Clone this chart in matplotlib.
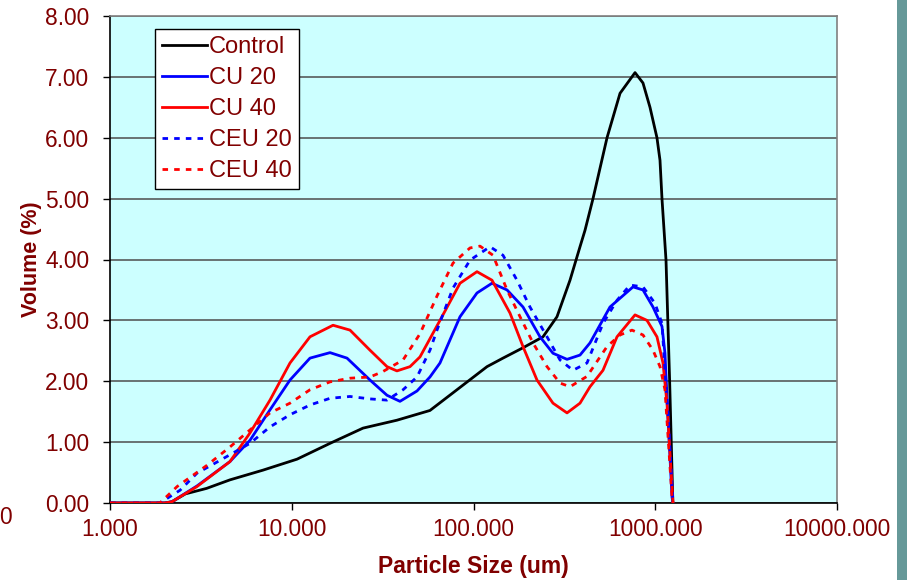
import numpy as np
import matplotlib
matplotlib.use('Agg')
import matplotlib.pyplot as plt
from matplotlib.ticker import FixedLocator, FormatStrFormatter, NullLocator
from matplotlib.patches import Rectangle

plt.rcParams['font.family'] = ['Liberation Sans', 'DejaVu Sans']

# 数据
control_x = [1, 2.0, 2.19, 2.6, 3.4, 4.57, 6.95, 10.69, 16.24, 24.66, 37.9, 57.6, 77.1, 118.7,
             145.3, 187.2, 241.2, 288.0, 339.6, 385.5, 410.7, 454.5, 542.8, 640, 774, 856,
             935.6, 1022, 1062, 1089, 1146, 1200, 1250]
control_y = [0, 0, 0.02, 0.15, 0.24, 0.38, 0.54, 0.72, 0.98, 1.23, 1.36, 1.52, 1.81, 2.24,
             2.38, 2.55, 2.73, 3.06, 3.66, 4.21, 4.48, 5.00, 6.00, 6.73, 7.07, 6.90,
             6.50, 6.00, 5.63, 5.00, 3.99, 2.00, 0]

cu20_x = [1, 2.0, 2.19, 3.01, 4.57, 5.89, 7.59, 9.78, 12.60, 16.24, 20.14, 26.95, 33.42, 39.4,
          48.88, 57.6, 65.4, 84.3, 104.5, 126.4, 152.9, 187.2, 232.2, 273.7, 327, 385.5,
          437.5, 563.7, 754.6, 856.2, 971.8, 1089, 1131, 1160, 1236, 1252]
cu20_y = [0, 0, 0.02, 0.28, 0.68, 1.03, 1.53, 2.02, 2.38, 2.47, 2.38, 2.02, 1.77, 1.67,
          1.84, 2.07, 2.30, 3.06, 3.45, 3.61, 3.50, 3.22, 2.73, 2.46, 2.36, 2.43,
          2.63, 3.22, 3.55, 3.50, 3.22, 2.90, 2.46, 1.75, 0.10, 0]

cu40_x = [1, 2.0, 2.19, 3.01, 4.57, 5.89, 7.59, 9.78, 12.60, 16.87, 20.92, 26.95, 33.42, 37.9,
          44.74, 50.77, 65.4, 84.3, 104.5, 126.4, 158.8, 187.2, 223.5, 273.7, 327, 385.5,
          437.5, 515.8, 616.0, 773.9, 900.7, 1022, 1103, 1160, 1252]
cu40_y = [0, 0, 0.02, 0.27, 0.68, 1.15, 1.69, 2.30, 2.73, 2.92, 2.84, 2.51, 2.24, 2.17,
          2.24, 2.40, 3.00, 3.61, 3.80, 3.66, 3.12, 2.57, 2.02, 1.64, 1.48, 1.64,
          1.91, 2.18, 2.73, 3.09, 3.00, 2.73, 2.30, 1.64, 0]

ceu20_x = [1, 1.88, 2.43, 3.01, 4.03, 5.89, 7.59, 9.78, 12.60, 16.24, 20.92, 26.95, 33.42, 40.96,
           48.88, 57.6, 62.98, 77.1, 95.7, 123.3, 145.3, 173.5, 204.5, 253.8, 299.2, 352.7,
           421.2, 515.8, 616.0, 726.5, 856.2, 996.8, 1089, 1131, 1175, 1252]
ceu20_y = [0, 0, 0.21, 0.49, 0.70, 0.98, 1.25, 1.45, 1.61, 1.72, 1.75, 1.71, 1.69, 1.86,
           2.07, 2.51, 2.84, 3.53, 3.99, 4.21, 4.07, 3.66, 3.22, 2.73, 2.35, 2.18,
           2.30, 2.95, 3.33, 3.58, 3.55, 3.28, 2.95, 2.18, 1.48, 0]

ceu40_x = [1, 1.88, 2.34, 3.42, 4.57, 5.89, 7.59, 9.78, 12.60, 16.24, 20.92, 26.95, 31.77, 40.96,
           50.77, 62.98, 77.1, 95.7, 108.6, 128.0, 152.9, 180.3, 212.5, 253.8, 299.2, 339.6,
           421.2, 542.8, 640, 744.7, 856.2, 971.8, 1062, 1131, 1236, 1252]
ceu40_y = [0, 0, 0.27, 0.62, 0.92, 1.20, 1.48, 1.64, 1.86, 1.99, 2.05, 2.07, 2.16, 2.35,
           2.78, 3.40, 3.94, 4.19, 4.22, 4.07, 3.50, 3.06, 2.63, 2.24, 1.97, 1.91,
           2.08, 2.57, 2.76, 2.84, 2.76, 2.51, 2.24, 1.86, 0.10, 0]

x_ticks = [1, 10, 100, 1000, 10000]
y_ticks = [0, 1, 2, 3, 4, 5, 6, 7, 8]

text_color = '#800000'

fig = plt.figure(figsize=(9.07, 5.8), dpi=100)
fig.patch.set_facecolor('white')
ax = fig.add_axes([110 / 907, 77 / 580, 727 / 907, 487 / 580])
ax.set_facecolor('#CCFFFF')

# 画曲线
ax.plot(control_x, control_y, color='black', lw=2, label='Control', zorder=3)
ax.plot(cu20_x, cu20_y, color='#0000FF', lw=2, label='CU 20', zorder=3)
ax.plot(cu40_x, cu40_y, color='#FF0000', lw=2, label='CU 40', zorder=3)
ax.plot(ceu20_x, ceu20_y, color='#0000FF', lw=2, ls=(0, (2, 2.2)), label='CEU 20', zorder=3)
ax.plot(ceu40_x, ceu40_y, color='#FF0000', lw=2, ls=(0, (2, 2.2)), label='CEU 40', zorder=3)

ax.set_xscale('log')
ax.set_xlim(1, 10000)
ax.set_ylim(0, 8)
ax.xaxis.set_major_locator(FixedLocator(x_ticks))
ax.xaxis.set_minor_locator(NullLocator())
ax.xaxis.set_major_formatter(FormatStrFormatter('%.3f'))
ax.yaxis.set_major_locator(FixedLocator(y_ticks))
ax.yaxis.set_major_formatter(FormatStrFormatter('%.2f'))

ax.grid(axis='y', color='#4d4d4d', lw=1.1, zorder=1)
ax.set_axisbelow(True)
ax.tick_params(axis='both', direction='out', length=5, width=1, colors='black',
               labelcolor=text_color, labelsize=16.4)
ax.tick_params(axis='y', pad=10)
ax.tick_params(axis='x', pad=6)

for side in ['left', 'bottom']:
    ax.spines[side].set_color('black')
    ax.spines[side].set_linewidth(1.2)
for side in ['top', 'right']:
    ax.spines[side].set_color('#808080')
    ax.spines[side].set_linewidth(1.2)

ax.set_xlabel('Particle Size (um)', fontsize=16.5, fontweight='bold', color=text_color, labelpad=10)
ax.set_ylabel('Volume (%)', fontsize=15.5, fontweight='bold', color=text_color, labelpad=2)

leg = ax.legend(loc='upper left', bbox_to_anchor=(0.062, 0.973), fontsize=17, frameon=True,
                fancybox=False, framealpha=1, edgecolor='black', handlelength=1.9,
                handletextpad=0.08, labelspacing=0.38, borderpad=0.3, borderaxespad=0)
leg.get_frame().set_linewidth(1.0)
for t in leg.get_texts():
    t.set_color(text_color)

# 右侧装饰条和左下角残留文字
fig.patches.append(Rectangle((897 / 907, 0), 10 / 907, 1, transform=fig.transFigure,
                             facecolor='#669999', edgecolor='none'))
fig.text(-1 / 907, 1 - 518 / 580, '0', fontsize=16.4, color=text_color, va='center', ha='left')

fig.savefig('out.png', dpi=100)
